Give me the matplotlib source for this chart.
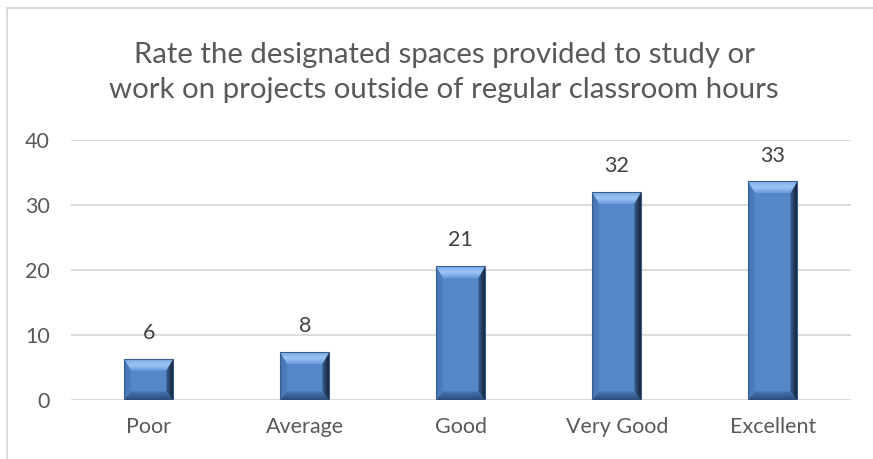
import matplotlib
matplotlib.use("Agg")
import matplotlib.pyplot as plt
from matplotlib.patches import Polygon
from matplotlib.lines import Line2D
from matplotlib.colors import LinearSegmentedColormap
import numpy as np

categories = ["Poor", "Average", "Good", "Very Good", "Excellent"]
values = [6.4, 7.4, 20.6, 32.0, 33.6]
value_labels = ["6", "8", "21", "32", "33"]
yticks = [0, 10, 20, 30, 40]
title = "Rate the designated spaces provided to study or\nwork on projects outside of regular classroom hours"

W, H, DPI = 873, 459, 100
plt.rcParams['font.family'] = ['Lato', 'DejaVu Sans']

fig = plt.figure(figsize=(W / DPI, H / DPI), dpi=DPI)
ax_left, ax_right = 70.7, 850.7
ax_bot, ax_top = 400.3, 139.7
ax = fig.add_axes([ax_left / W, 1 - ax_bot / H, (ax_right - ax_left) / W, (ax_bot - ax_top) / H])

n = len(categories)
x = np.arange(n)
bw = 0.315
xlim = (-0.5, n - 0.5)
ylim = (0, 40)
ax.set_xlim(*xlim)
ax.set_ylim(*ylim)

face = "#5588c8"
bars = ax.bar(x, values, width=bw, color=face, edgecolor="none", zorder=3)

axw = ax_right - ax_left
axh = ax_bot - ax_top
px_x = n / axw
px_y = 40 / axh
dx = 7.0 * px_x
dyt = 12.0 * px_y
dyb = 9.0 * px_y

cm_top = LinearSegmentedColormap.from_list("top", ["#6a9bdc", "#9cc5f5", "#7aaae6"])
cm_right = LinearSegmentedColormap.from_list("right", ["#15253b", "#263f63", "#3e659c"])
cm_bot = LinearSegmentedColormap.from_list("bot", ["#2c4b78", "#3c639a", "#4e7fbd"])
cm_left = LinearSegmentedColormap.from_list("left", ["#4373b2", "#4d80c0"])


def grad_facet(pts, cmap, extent, vertical, reverse=False):
    poly = Polygon(pts, closed=True, facecolor="none", edgecolor="none", zorder=4)
    ax.add_patch(poly)
    g = np.linspace(0, 1, 64)
    if reverse:
        g = g[::-1]
    arr = g[:, None] if vertical else g[None, :]
    im = ax.imshow(arr, cmap=cmap, extent=extent, aspect="auto", origin="lower",
                   interpolation="bilinear", zorder=4)
    im.set_clip_path(poly)


for b in bars:
    x0 = b.get_x(); x1 = x0 + b.get_width()
    y0 = 0; y1 = b.get_height()
    grad_facet([(x0, y0), (x0, y1), (x0 + dx, y1 - dyt), (x0 + dx, y0 + dyb)], cm_left,
               [x0, x0 + dx, y0, y1], vertical=False)
    grad_facet([(x0, y0), (x1, y0), (x1 - dx, y0 + dyb), (x0 + dx, y0 + dyb)], cm_bot,
               [x0, x1, y0, y0 + dyb], vertical=True)
    grad_facet([(x1, y1), (x1, y0), (x1 - dx, y0 + dyb), (x1 - dx, y1 - dyt)], cm_right,
               [x1 - dx, x1, y0, y1], vertical=False, reverse=True)
    grad_facet([(x0, y1), (x1, y1), (x1 - dx, y1 - dyt), (x0 + dx, y1 - dyt)], cm_top,
               [x0, x1, y1 - dyt, y1], vertical=True)
    ax.add_patch(Polygon([(x0, y0), (x1, y0), (x1, y1), (x0, y1)], closed=True, fill=False,
                         edgecolor="#3a5c8a", linewidth=0.8, zorder=5))

ax.set_xlim(*xlim)
ax.set_ylim(*ylim)

for xi, v, lab in zip(x, values, value_labels):
    ax.annotate(lab, (xi, v), xytext=(0, 18.5), textcoords="offset points",
                ha="center", va="center", fontsize=15.5, color="#404040", zorder=6)

ax.set_yticks(yticks)
ax.set_yticklabels([str(t) for t in yticks])
ax.set_xticks(x)
ax.set_xticklabels(categories)
ax.yaxis.grid(True, color="#d9d9d9", linewidth=1.3, zorder=0)
ax.set_axisbelow(True)
for s in ax.spines.values():
    s.set_visible(False)
ax.tick_params(axis="both", length=0, labelsize=15.5, labelcolor="#595959")
ax.tick_params(axis="y", pad=15)
ax.tick_params(axis="x", pad=12)

fig.text(444 / W, 1 - 98 / H, title, ha="center", va="baseline", fontsize=21.2,
         color="#595959", linespacing=1.45)

fig.add_artist(Line2D([7 / W, 1], [1 - 8 / H, 1 - 8 / H], color="#d9d9d9", linewidth=1.3))
fig.add_artist(Line2D([7 / W, 7 / W], [0, 1 - 8 / H], color="#d9d9d9", linewidth=1.3))

fig.savefig("out.png", dpi=DPI)
